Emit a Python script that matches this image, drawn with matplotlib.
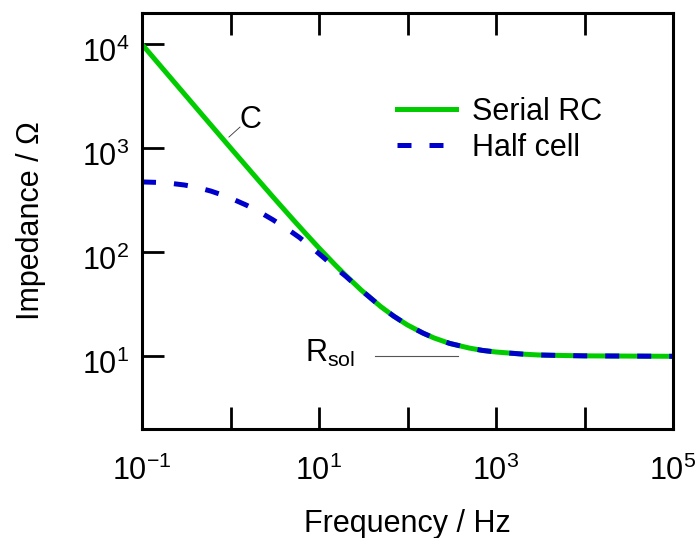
import matplotlib
matplotlib.use('Agg')
import matplotlib.pyplot as plt
from matplotlib.ticker import FixedLocator, FixedFormatter, NullLocator
from matplotlib.transforms import ScaledTranslation

plt.rcParams['font.family'] = 'Liberation Sans'
plt.rcParams['mathtext.fontset'] = 'custom'
plt.rcParams['mathtext.rm'] = 'Liberation Sans'
plt.rcParams['mathtext.it'] = 'Liberation Sans:italic'
plt.rcParams['mathtext.default'] = 'regular'

# serial RC curve
freq_rc = [0.1, 0.2, 0.5, 1, 2, 3, 5, 7, 10, 15, 20, 30, 50, 70, 100, 150, 200, 300, 500, 700,
           1000, 1500, 2000, 3000, 5000, 1e4, 1e5]
z_rc = [10000, 5010, 2010, 1010, 510, 343, 210, 153, 110, 76.7, 60, 43.3, 30, 24.3, 20, 16.7, 15, 13.3, 12, 11.4,
        11, 10.7, 10.5, 10.3, 10.2, 10.1, 10.0]

# half cell curve
freq_half = [0.1, 0.15, 0.2, 0.3, 0.4, 0.6, 0.8, 1, 1.5, 2, 3, 4, 5, 6, 7, 8, 10, 12, 15, 20, 30, 50, 70,
             100, 150, 200, 300, 500, 700, 1000, 1500, 2000, 3000, 5000, 1e4, 1e5]
z_half = [475, 470, 463, 444, 425, 388, 357, 332, 285, 252, 206, 176, 155, 139, 125, 114, 97, 85, 72, 59, 43.3, 30, 24.3,
          20, 16.7, 15, 13.3, 12, 11.4, 11, 10.7, 10.5, 10.3, 10.2, 10.1, 10.0]

x_ticks = [0.1, 1, 10, 100, 1e3, 1e4, 1e5]
x_ticklabels = ['$10^{-1}$', '', '$10^{1}$', '', '$10^{3}$', '', '$10^{5}$']
y_ticks = [10, 100, 1e3, 1e4]
y_ticklabels = ['$10^{1}$', '$10^{2}$', '$10^{3}$', '$10^{4}$']

fig = plt.figure(figsize=(6.96, 5.38), dpi=100)
ax = fig.add_axes([142/696, 109/538, 531/696, 416/538])
ax.set_xscale('log')
ax.set_yscale('log')

ax.plot(freq_rc, z_rc, color='#00cc00', lw=3.6, label='Serial RC')
ax.plot(freq_half, z_half, color='#0000cc', lw=3.6, dashes=(2.8, 3.6), label='Half cell')

ax.set_xlim(0.1, 1e5)
ax.set_ylim(2, 2e4)

ax.xaxis.set_major_locator(FixedLocator(x_ticks))
ax.xaxis.set_major_formatter(FixedFormatter(x_ticklabels))
ax.yaxis.set_major_locator(FixedLocator(y_ticks))
ax.yaxis.set_major_formatter(FixedFormatter(y_ticklabels))
ax.xaxis.set_minor_locator(NullLocator())
ax.yaxis.set_minor_locator(NullLocator())
ax.tick_params(which='major', direction='in', length=16, width=2, top=True, right=False, labelsize=22)
ax.tick_params(axis='x', pad=19)
ax.tick_params(axis='y', pad=9)
for lab in ax.get_yticklabels():
    lab.set_transform(lab.get_transform() + ScaledTranslation(0, -4/72, fig.dpi_scale_trans))
for s in ax.spines.values():
    s.set_linewidth(2.2)

ax.set_xlabel('Frequency / Hz', fontsize=22, labelpad=16)
ax.set_ylabel('Impedance / \u03a9', fontsize=22, labelpad=26)

# annotations
ax.text(1.7, 1866, 'C', fontsize=22, ha='center', va='center')
ax.plot([0.96, 1.28], [1283, 1600], color='#333333', lw=0.6)
ax.text(6.95, 8.75, 'R$_{sol}$', fontsize=22, ha='left', va='baseline')
ax.plot([43, 372], [10, 10], color='#555555', lw=0.8)

ax.legend(loc='center left', bbox_to_anchor=(0.480, 0.719), frameon=False, fontsize=22,
          handlelength=1.95, handletextpad=0.5, labelspacing=0.2, borderpad=0, borderaxespad=0)

fig.savefig('out.png', dpi=100)
